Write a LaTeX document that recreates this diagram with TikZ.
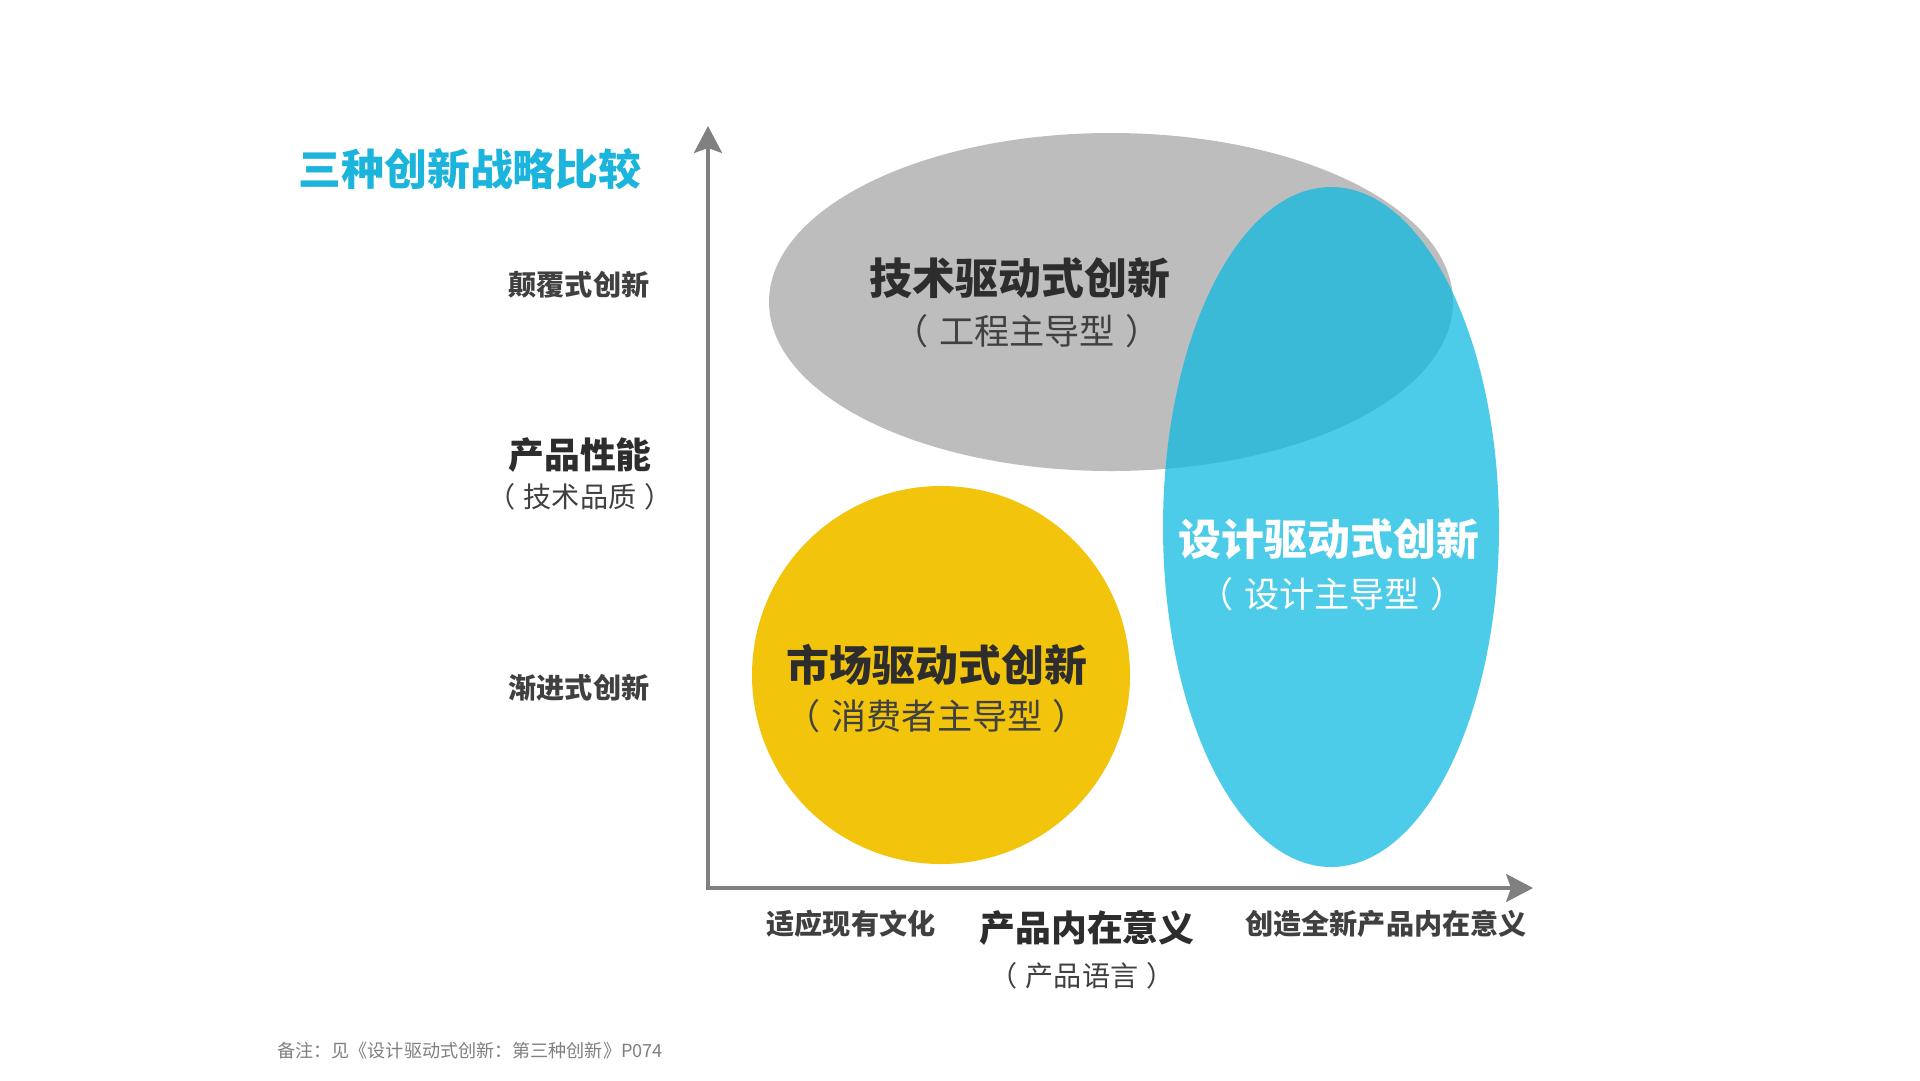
\documentclass[tikz,border=0pt]{standalone}
\usepackage{fontspec}
\setmainfont{Noto Sans CJK SC}
\usepackage{xcolor}
\usetikzlibrary{arrows.meta, positioning}
\definecolor{cTitle}{RGB}{27,180,220}
\definecolor{cGrayE}{RGB}{189,189,189}
\definecolor{cBlue}{RGB}{12,186,227}
\definecolor{cYellow}{RGB}{242,196,12}
\definecolor{cAxis}{RGB}{128,128,128}
\definecolor{cText}{RGB}{64,64,64}
\definecolor{cDark}{RGB}{45,45,45}
\newcommand{\paren}[1]{（\hspace{0.3em}#1\hspace{0.3em}）}
\tikzset{
	axisline/.style ={line width=2.27pt, cAxis, -{Stealth[length=15.3pt, width=15.9pt, inset=2.8pt]}},
	mainlbl/.style  ={font=\bfseries\fontsize{24.4}{26}\selectfont, text=cDark, inner sep=0pt},
	sublbl/.style   ={font=\fontsize{20}{22}\selectfont, text=cText, inner sep=0pt},
	ticklbl/.style  ={font=\bfseries\fontsize{16}{18}\selectfont, text=cText, inner sep=0pt},
	axislbl/.style  ={font=\bfseries\fontsize{20.4}{22}\selectfont, text=cDark, inner sep=0pt},
	axissub/.style  ={font=\fontsize{16}{18}\selectfont, text=cText, inner sep=0pt},
}
\begin{document}
\begin{tikzpicture}[x=0.02cm, y=-0.02cm]
	\fill[white] (0,0) rectangle (1920,1080);
	\useasboundingbox (0,0) rectangle (1920,1080);
	% strategy areas
	\fill[cGrayE] (1111,302) ellipse [x radius=342, y radius=169];
	\fill[cYellow] (941,675) circle [radius=189];
	\fill[cBlue, fill opacity=0.73] (1331,527) ellipse [x radius=168, y radius=340];
	% axes
	\coordinate (origin) at (708,888);
	\coordinate (ytop) at (708,126);
	\coordinate (xend) at (1533,888);
	\draw[axisline] ([yshift=-1.1pt]origin) -- (ytop);
	\draw[axisline] ([xshift=-1.1pt]origin) -- (xend);
	% title
	\node[font=\bfseries\fontsize{24.4}{26}\selectfont, text=cTitle, inner sep=0pt] (title) at (470,169) {三种创新战略比较};
	% y labels
	\node[ticklbl] (disrupt) at (579,285) {颠覆式创新};
	\node[axislbl] (yname) at (580,455) {产品性能};
	\node[axissub] (ysub) at (580,497) {\paren{技术品质}};
	\node[ticklbl] (incr) at (579,688) {渐进式创新};
	% x labels
	\node[ticklbl] (adapt) at (851,924) {适应现有文化};
	\node[axislbl] (xname) at (1087,928) {产品内在意义};
	\node[axissub] (xsub) at (1082,976) {\paren{产品语言}};
	\node[ticklbl] (create) at (1386,924) {创造全新产品内在意义};
	% areas
	\node[mainlbl] (tech) at (1020,278) {技术驱动式创新};
	\node[sublbl] (techsub) at (1027,331) {\paren{工程主导型}};
	\node[mainlbl, text=white] (design) at (1329,539) {设计驱动式创新};
	\node[sublbl, text=white] (designsub) at (1332,594) {\paren{设计主导型}};
	\node[mainlbl] (market) at (937,665) {市场驱动式创新};
	\node[sublbl] (marketsub) at (937,716) {\paren{消费者主导型}};
	% note
	\node[anchor=west, font=\fontsize{10.3}{12}\selectfont, text=cAxis, inner sep=0pt] (note) at (277,1051) {备注：见《设计驱动式创新：第三种创新》P074};
\end{tikzpicture}
\end{document}
